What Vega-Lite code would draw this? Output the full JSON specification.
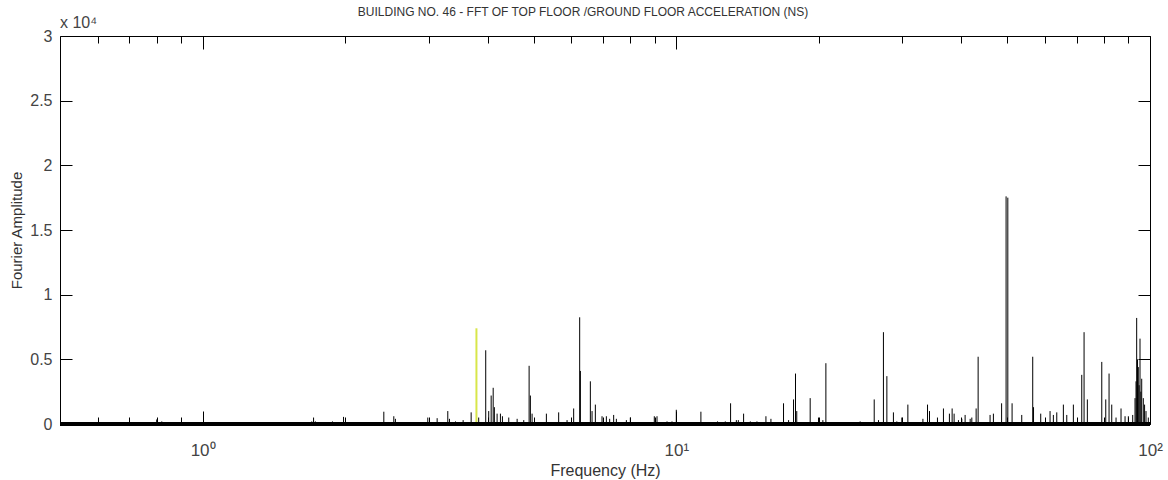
{
  "$schema": "https://vega.github.io/schema/vega-lite/v6.json",
  "width": 1090,
  "height": 388,
  "autosize": {"type": "none"},
  "padding": {"left": 60, "top": 36, "right": 18, "bottom": 56},
  "background": "white",
  "title": {
    "text": "BUILDING NO. 46 - FFT OF TOP FLOOR /GROUND FLOOR ACCELERATION (NS)",
    "font": "Liberation Sans",
    "fontSize": 12,
    "fontWeight": "normal",
    "color": "#333333",
    "offset": -4,
    "dx": -22
  },
  "config": {"view": {"stroke": null}},
  "data": {
    "values": [
      {"f": 0.800, "a": 350, "s": "FFT"},
      {"f": 0.820, "a": 200, "s": "FFT"},
      {"f": 1.626, "a": 100, "s": "FFT"},
      {"f": 1.700, "a": 200, "s": "FFT"},
      {"f": 1.715, "a": 500, "s": "FFT"},
      {"f": 1.730, "a": 200, "s": "FFT"},
      {"f": 1.880, "a": 200, "s": "FFT"},
      {"f": 1.984, "a": 550, "s": "FFT"},
      {"f": 2.413, "a": 950, "s": "FFT"},
      {"f": 2.533, "a": 600, "s": "FFT"},
      {"f": 2.553, "a": 400, "s": "FFT"},
      {"f": 2.703, "a": 150, "s": "FFT"},
      {"f": 2.988, "a": 500, "s": "FFT"},
      {"f": 3.127, "a": 450, "s": "FFT"},
      {"f": 3.293, "a": 1000, "s": "FFT"},
      {"f": 3.320, "a": 400, "s": "FFT"},
      {"f": 3.419, "a": 200, "s": "FFT"},
      {"f": 3.548, "a": 300, "s": "FFT"},
      {"f": 3.689, "a": 900, "s": "FFT"},
      {"f": 3.785, "a": 7400, "s": "peak"},
      {"f": 3.827, "a": 500, "s": "FFT"},
      {"f": 3.960, "a": 5700, "s": "FFT"},
      {"f": 4.018, "a": 1000, "s": "FFT"},
      {"f": 4.066, "a": 2200, "s": "FFT"},
      {"f": 4.106, "a": 2800, "s": "FFT"},
      {"f": 4.130, "a": 1300, "s": "FFT"},
      {"f": 4.185, "a": 800, "s": "FFT"},
      {"f": 4.253, "a": 800, "s": "FFT"},
      {"f": 4.295, "a": 600, "s": "FFT"},
      {"f": 4.429, "a": 500, "s": "FFT"},
      {"f": 4.613, "a": 400, "s": "FFT"},
      {"f": 4.764, "a": 300, "s": "FFT"},
      {"f": 4.890, "a": 4500, "s": "FFT"},
      {"f": 4.920, "a": 2200, "s": "FFT"},
      {"f": 4.961, "a": 800, "s": "FFT"},
      {"f": 5.318, "a": 800, "s": "FFT"},
      {"f": 5.645, "a": 900, "s": "FFT"},
      {"f": 5.880, "a": 300, "s": "FFT"},
      {"f": 6.072, "a": 1200, "s": "FFT"},
      {"f": 6.252, "a": 8250, "s": "FFT"},
      {"f": 6.274, "a": 4100, "s": "FFT"},
      {"f": 6.585, "a": 3300, "s": "FFT"},
      {"f": 6.640, "a": 1000, "s": "FFT"},
      {"f": 6.747, "a": 1500, "s": "FFT"},
      {"f": 6.970, "a": 600, "s": "FFT"},
      {"f": 7.118, "a": 600, "s": "FFT"},
      {"f": 7.233, "a": 400, "s": "FFT"},
      {"f": 7.375, "a": 700, "s": "FFT"},
      {"f": 7.472, "a": 400, "s": "FFT"},
      {"f": 7.845, "a": 300, "s": "FFT"},
      {"f": 7.998, "a": 500, "s": "FFT"},
      {"f": 8.262, "a": 100, "s": "FFT"},
      {"f": 8.986, "a": 600, "s": "FFT"},
      {"f": 9.105, "a": 600, "s": "FFT"},
      {"f": 9.559, "a": 200, "s": "FFT"},
      {"f": 9.793, "a": 200, "s": "FFT"},
      {"f": 10.00, "a": 1100, "s": "FFT"},
      {"f": 10.28, "a": 100, "s": "FFT"},
      {"f": 11.27, "a": 950, "s": "FFT"},
      {"f": 12.22, "a": 200, "s": "FFT"},
      {"f": 12.69, "a": 200, "s": "FFT"},
      {"f": 13.02, "a": 1600, "s": "FFT"},
      {"f": 13.39, "a": 300, "s": "FFT"},
      {"f": 13.52, "a": 300, "s": "FFT"},
      {"f": 13.87, "a": 800, "s": "FFT"},
      {"f": 14.33, "a": 200, "s": "FFT"},
      {"f": 14.80, "a": 200, "s": "FFT"},
      {"f": 15.46, "a": 600, "s": "FFT"},
      {"f": 15.84, "a": 400, "s": "FFT"},
      {"f": 16.84, "a": 1600, "s": "FFT"},
      {"f": 17.26, "a": 300, "s": "FFT"},
      {"f": 17.68, "a": 1900, "s": "FFT"},
      {"f": 17.85, "a": 3900, "s": "FFT"},
      {"f": 17.96, "a": 1000, "s": "FFT"},
      {"f": 19.17, "a": 2000, "s": "FFT"},
      {"f": 19.96, "a": 500, "s": "FFT"},
      {"f": 20.39, "a": 300, "s": "FFT"},
      {"f": 20.69, "a": 4700, "s": "FFT"},
      {"f": 24.44, "a": 200, "s": "FFT"},
      {"f": 26.17, "a": 1900, "s": "FFT"},
      {"f": 26.72, "a": 300, "s": "FFT"},
      {"f": 27.37, "a": 7100, "s": "FFT"},
      {"f": 27.83, "a": 3700, "s": "FFT"},
      {"f": 28.73, "a": 900, "s": "FFT"},
      {"f": 29.21, "a": 200, "s": "FFT"},
      {"f": 29.93, "a": 500, "s": "FFT"},
      {"f": 30.82, "a": 1500, "s": "FFT"},
      {"f": 33.16, "a": 400, "s": "FFT"},
      {"f": 33.91, "a": 1500, "s": "FFT"},
      {"f": 34.24, "a": 1000, "s": "FFT"},
      {"f": 35.59, "a": 500, "s": "FFT"},
      {"f": 36.64, "a": 1200, "s": "FFT"},
      {"f": 37.72, "a": 800, "s": "FFT"},
      {"f": 38.22, "a": 1200, "s": "FFT"},
      {"f": 38.59, "a": 800, "s": "FFT"},
      {"f": 39.41, "a": 300, "s": "FFT"},
      {"f": 40.06, "a": 400, "s": "FFT"},
      {"f": 40.71, "a": 700, "s": "FFT"},
      {"f": 41.72, "a": 400, "s": "FFT"},
      {"f": 42.06, "a": 500, "s": "FFT"},
      {"f": 42.95, "a": 1200, "s": "FFT"},
      {"f": 43.37, "a": 5200, "s": "FFT"},
      {"f": 45.96, "a": 700, "s": "FFT"},
      {"f": 46.71, "a": 800, "s": "FFT"},
      {"f": 48.61, "a": 1600, "s": "FFT"},
      {"f": 49.68, "a": 17600, "s": "FFT"},
      {"f": 50.10, "a": 17500, "s": "FFT"},
      {"f": 51.15, "a": 1600, "s": "FFT"},
      {"f": 53.61, "a": 700, "s": "FFT"},
      {"f": 56.55, "a": 5200, "s": "FFT"},
      {"f": 56.77, "a": 1300, "s": "FFT"},
      {"f": 58.79, "a": 800, "s": "FFT"},
      {"f": 61.52, "a": 1000, "s": "FFT"},
      {"f": 62.52, "a": 700, "s": "FFT"},
      {"f": 63.56, "a": 900, "s": "FFT"},
      {"f": 65.63, "a": 1500, "s": "FFT"},
      {"f": 66.73, "a": 700, "s": "FFT"},
      {"f": 68.90, "a": 1500, "s": "FFT"},
      {"f": 71.77, "a": 3800, "s": "FFT"},
      {"f": 72.58, "a": 7100, "s": "FFT"},
      {"f": 73.75, "a": 1900, "s": "FFT"},
      {"f": 79.10, "a": 4800, "s": "FFT"},
      {"f": 80.65, "a": 1900, "s": "FFT"},
      {"f": 81.95, "a": 3900, "s": "FFT"},
      {"f": 83.03, "a": 1500, "s": "FFT"},
      {"f": 84.78, "a": 500, "s": "FFT"},
      {"f": 86.86, "a": 1200, "s": "FFT"},
      {"f": 88.58, "a": 600, "s": "FFT"},
      {"f": 90.01, "a": 600, "s": "FFT"},
      {"f": 91.94, "a": 700, "s": "FFT"},
      {"f": 92.98, "a": 2000, "s": "FFT"},
      {"f": 93.43, "a": 3300, "s": "FFT"},
      {"f": 93.73, "a": 8200, "s": "FFT"},
      {"f": 94.10, "a": 5000, "s": "FFT"},
      {"f": 94.47, "a": 4400, "s": "FFT"},
      {"f": 94.85, "a": 3000, "s": "FFT"},
      {"f": 95.26, "a": 6600, "s": "FFT"},
      {"f": 95.65, "a": 2500, "s": "FFT"},
      {"f": 96.05, "a": 3500, "s": "FFT"},
      {"f": 96.80, "a": 2000, "s": "FFT"},
      {"f": 97.40, "a": 1500, "s": "FFT"},
      {"f": 98.08, "a": 1000, "s": "FFT"},
      {"f": 99.18, "a": 500, "s": "FFT"}
    ]
  },
  "layer": [
    {
      "transform": [{"filter": "datum.s == 'FFT'"}],
      "mark": {"type": "rule", "strokeWidth": 1},
      "encoding": {
        "x": {
          "field": "f",
          "type": "quantitative",
          "scale": {"type": "log", "domain": [0.5, 100], "nice": false},
          "axis": {
            "orient": "bottom",
            "values": [0.6, 0.7, 0.8, 0.9, 1, 2, 3, 4, 5, 6, 7, 8, 9, 10, 20, 30, 40, 50, 60, 70, 80, 90, 100],
            "labelExpr": "datum.value == 1 ? '10⁰' : datum.value == 10 ? '10¹' : datum.value == 100 ? '10²' : ''",
            "tickSize": {"condition": {"test": "datum.value == 1 || datum.value == 10 || datum.value == 100", "value": -13}, "value": -7},
            "tickColor": "black",
            "domainColor": "black",
            "grid": false,
            "labelFont": "Liberation Sans",
            "labelFontSize": 17,
            "labelColor": "#444444",
            "labelPadding": 31,
            "labelFlush": false,
            "title": "Frequency (Hz)",
            "titleFont": "Liberation Sans",
            "titleFontSize": 16,
            "titleFontWeight": "normal",
            "titleColor": "#333333",
            "titlePadding": 4
          }
        },
        "y": {
          "field": "a",
          "type": "quantitative",
          "scale": {"domain": [0, 30000], "nice": false},
          "axis": {
            "orient": "left",
            "values": [0, 5000, 10000, 15000, 20000, 25000, 30000],
            "labelExpr": "'' + datum.value / 10000",
            "tickSize": -12,
            "tickColor": "black",
            "domainColor": "black",
            "grid": false,
            "labelFont": "Liberation Sans",
            "labelFontSize": 16,
            "labelColor": "#444444",
            "labelPadding": 20,
            "labelFlush": false,
            "title": "Fourier Amplitude",
            "titleFont": "Liberation Sans",
            "titleFontSize": 15,
            "titleFontWeight": "normal",
            "titleColor": "#333333",
            "titlePadding": 5
          }
        },
        "y2": {"datum": 0},
        "color": {
          "field": "s",
          "type": "nominal",
          "scale": {"domain": ["FFT", "peak"], "range": ["#000000", "#d8e64a"]},
          "legend": null
        }
      }
    },
    {
      "transform": [{"filter": "datum.s == 'peak'"}],
      "mark": {"type": "rule", "strokeWidth": 2},
      "encoding": {
        "x": {
          "field": "f",
          "type": "quantitative",
          "axis": {
            "orient": "top",
            "values": [0.6, 0.7, 0.8, 0.9, 1, 2, 3, 4, 5, 6, 7, 8, 9, 10, 20, 30, 40, 50, 60, 70, 80, 90, 100],
            "labels": false,
            "tickSize": {"condition": {"test": "datum.value == 1 || datum.value == 10 || datum.value == 100", "value": -13}, "value": -7},
            "tickColor": "black",
            "domainColor": "black",
            "grid": false,
            "title": null
          }
        },
        "y": {
          "field": "a",
          "type": "quantitative",
          "axis": {
            "orient": "right",
            "values": [0, 5000, 10000, 15000, 20000, 25000, 30000],
            "labels": false,
            "tickSize": -12,
            "tickColor": "black",
            "domainColor": "black",
            "grid": false,
            "title": null
          }
        },
        "y2": {"datum": 0},
        "color": {"field": "s", "type": "nominal", "legend": null}
      }
    },
    {
      "mark": {"type": "rule", "strokeWidth": 2.5, "color": "black"},
      "encoding": {"y": {"datum": 0, "axis": null}}
    },
    {
      "data": {"values": [{}]},
      "mark": {
        "type": "text",
        "align": "left",
        "baseline": "alphabetic",
        "dy": -8,
        "font": "Liberation Sans",
        "fontSize": 16,
        "color": "#444444"
      },
      "encoding": {
        "x": {"datum": 0.5, "axis": null},
        "y": {"datum": 30000, "axis": null},
        "text": {"value": "x 10⁴"}
      }
    }
  ],
  "resolve": {"axis": {"x": "independent", "y": "independent"}}
}
